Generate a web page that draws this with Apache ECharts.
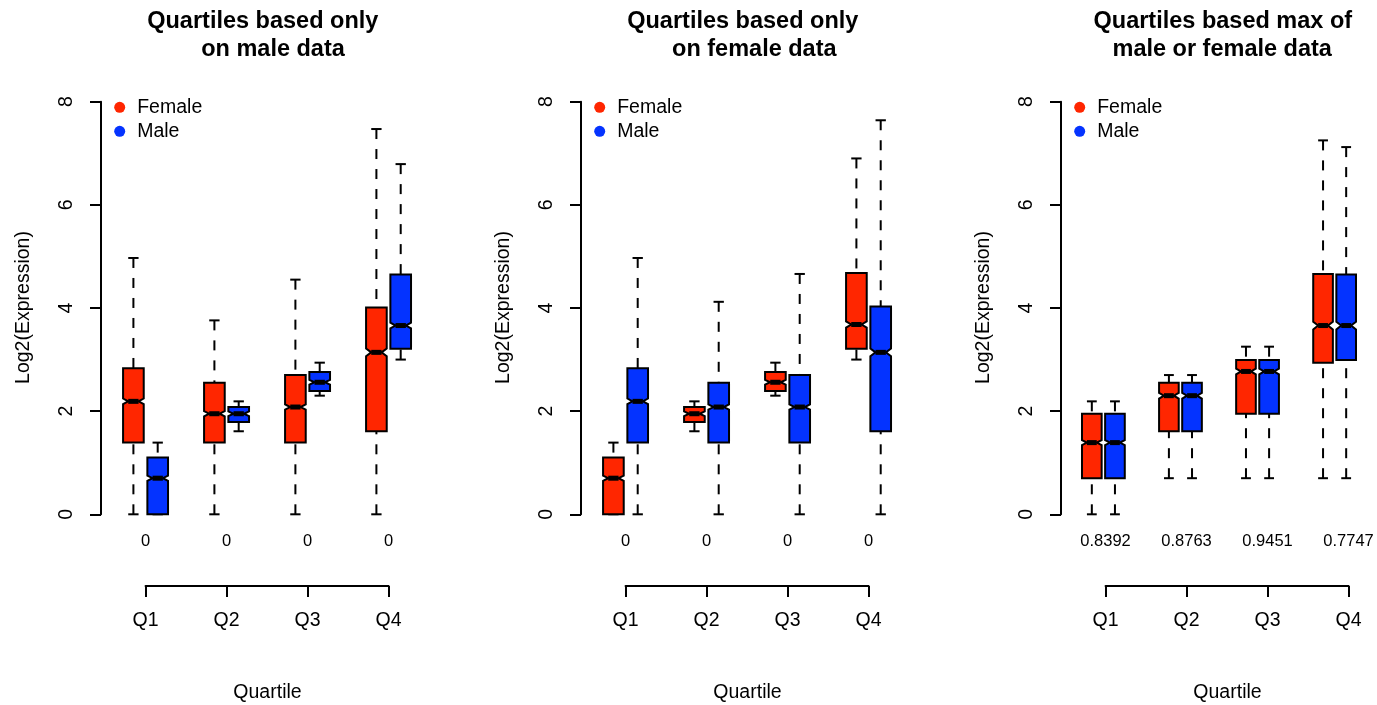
<!DOCTYPE html>
<html>
<head>
<meta charset="utf-8">
<script src="https://cdn.jsdelivr.net/npm/echarts@6/dist/echarts.min.js"></script>
<style>
html,body{margin:0;padding:0;background:#fff;}
#chart{width:1377px;height:705px;}
</style>
</head>
<body>
<div id="chart"></div>
<script>
// ---------------- data ----------------
const quartiles = ['Q1', 'Q2', 'Q3', 'Q4'];
const sexes = ['Female', 'Male'];

// each box: [lower whisker, Q1, median, Q3, upper whisker]
const maleBasedFemale = [[0, 1.39, 2.19, 2.83, 4.97], [0, 1.39, 1.95, 2.55, 3.76], [0, 1.39, 2.08, 2.70, 4.55], [0, 1.61, 3.14, 4.01, 7.47]];
const maleBasedMale   = [[0, 0, 0.70, 1.10, 1.39], [1.61, 1.79, 1.95, 2.08, 2.19], [2.30, 2.39, 2.56, 2.76, 2.94], [3.00, 3.21, 3.66, 4.65, 6.79]];
const femaleBasedFemale = [[0, 0, 0.70, 1.10, 1.39], [1.61, 1.79, 1.95, 2.08, 2.19], [2.30, 2.39, 2.56, 2.76, 2.94], [3.00, 3.21, 3.68, 4.68, 6.90]];
const femaleBasedMale   = [[0, 1.39, 2.19, 2.83, 4.97], [0, 1.39, 2.08, 2.55, 4.12], [0, 1.39, 2.08, 2.70, 4.66], [0, 1.61, 3.14, 4.03, 7.64]];
const maxBasedFemale = [[0, 0.70, 1.39, 1.95, 2.19], [0.70, 1.61, 2.30, 2.55, 2.70], [0.70, 1.95, 2.77, 2.99, 3.25], [0.70, 2.94, 3.66, 4.66, 7.25]];
const maxBasedMale   = [[0, 0.70, 1.39, 1.95, 2.19], [0.70, 1.61, 2.30, 2.55, 2.70], [0.70, 1.95, 2.77, 2.99, 3.25], [0.70, 2.99, 3.66, 4.65, 7.12]];

// notch half-heights (median +/- value)
const maleBasedFemaleNotch = [0.055, 0.05, 0.05, 0.075];
const maleBasedMaleNotch   = [0.05, 0.045, 0.045, 0.055];
const femaleBasedFemaleNotch = [0.05, 0.045, 0.045, 0.06];
const femaleBasedMaleNotch   = [0.055, 0.05, 0.05, 0.075];
const maxBasedFemaleNotch = [0.05, 0.055, 0.055, 0.075];
const maxBasedMaleNotch   = [0.05, 0.055, 0.055, 0.075];

// p-value labels under the boxes
const maleBasedP = ['0', '0', '0', '0'];
const femaleBasedP = ['0', '0', '0', '0'];
const maxBasedP = ['0.8392', '0.8763', '0.9451', '0.7747'];

const yTicks = [0, 2, 4, 6, 8];

const titleLine1 = ['Quartiles based only', 'Quartiles based only', 'Quartiles based max of'];
const titleLine2 = ['on male data', 'on female data', 'male or female data'];
const yTitle = 'Log2(Expression)';
const xTitle = 'Quartile';

// ---------------- layout / style ----------------
const FONT = "'Liberation Sans', Arial, Helvetica, sans-serif";
const COLORS = {Female: '#FF2600', Male: '#0433FF'};
const PANEL_DX = 480;
const BOX_W = 0.255;          // box width in x-units
const DODGE = 0.15;           // offset of female/male from group center
const title1X = [262.8, 742.8, 1222.8];
const title2X = [273, 754.3, 1222.2];

const panels = [
  {F: maleBasedFemale, M: maleBasedMale, FN: maleBasedFemaleNotch, MN: maleBasedMaleNotch, P: maleBasedP},
  {F: femaleBasedFemale, M: femaleBasedMale, FN: femaleBasedFemaleNotch, MN: femaleBasedMaleNotch, P: femaleBasedP},
  {F: maxBasedFemale, M: maxBasedMale, FN: maxBasedFemaleNotch, MN: maxBasedMaleNotch, P: maxBasedP}
];

function renderBox(params, api) {
  const x = api.value(0);
  const lo = api.value(1), q1 = api.value(2), med = api.value(3), q3 = api.value(4), hi = api.value(5), nt = api.value(6);
  const bw = api.size([BOX_W, 0])[0];
  const cx = api.coord([x, med])[0];
  const Y = v => api.coord([x, v])[1];
  const xl = cx - bw / 2, xr = cx + bw / 2, xnl = cx - bw / 4, xnr = cx + bw / 4;
  const yLo = Y(lo), yQ1 = Y(q1), yMed = Y(med), yQ3 = Y(q3), yHi = Y(hi), yNu = Y(med + nt), yNd = Y(med - nt);
  const color = api.visual('color');
  const lineStyle = {stroke: '#000', lineWidth: 2};
  const dashStyle = {stroke: '#000', lineWidth: 2, lineDash: [10, 10]};
  const children = [];
  if (hi > q3) children.push({type: 'line', shape: {x1: cx, y1: yHi, x2: cx, y2: yQ3}, style: dashStyle});
  if (lo < q1) children.push({type: 'line', shape: {x1: cx, y1: yLo, x2: cx, y2: yQ1}, style: dashStyle});
  children.push({type: 'line', shape: {x1: xnl, y1: yHi, x2: xnr, y2: yHi}, style: lineStyle});
  children.push({type: 'line', shape: {x1: xnl, y1: yLo, x2: xnr, y2: yLo}, style: lineStyle});
  children.push({
    type: 'polygon',
    shape: {points: [[xl, yQ3], [xr, yQ3], [xr, yNu], [xnr, yMed], [xr, yNd], [xr, yQ1], [xl, yQ1], [xl, yNd], [xnl, yMed], [xl, yNu]]},
    style: {fill: color, stroke: '#000', lineWidth: 2, lineJoin: 'miter'}
  });
  children.push({type: 'line', shape: {x1: xnl, y1: yMed, x2: xnr, y2: yMed}, style: {stroke: '#000', lineWidth: 5, lineCap: 'butt'}});
  return {type: 'group', children: children};
}

const grid = [], xAxis = [], yAxis = [], series = [], legend = [], graphic = [];

panels.forEach((pd, p) => {
  const off = p * PANEL_DX;
  // main plot grid (index p)
  grid[p] = {left: 101 + off, top: 101.7, width: 332.1, height: 412.6, containLabel: false};
  xAxis[p] = {type: 'value', gridIndex: p, min: 0.45, max: 4.55, show: false};
  yAxis[p] = {
    type: 'value', gridIndex: p, min: 0, max: 8, interval: 2,
    axisLine: {show: true, lineStyle: {color: '#000', width: 2}},
    axisTick: {show: true, length: 11, lineStyle: {color: '#000', width: 2}},
    splitLine: {show: false},
    axisLabel: {rotate: 90, margin: 24, color: '#000', fontSize: 19.5, fontFamily: FONT,
      formatter: v => (yTicks.indexOf(v) >= 0 ? String(v) : '')}
  };
  // bottom quartile axis grid (index 3+p)
  grid[3 + p] = {left: 145.55 + off, top: 580, width: 243, height: 6};
  xAxis[3 + p] = {
    type: 'category', gridIndex: 3 + p, data: quartiles, boundaryGap: false, position: 'bottom',
    axisLine: {show: true, lineStyle: {color: '#000', width: 2}},
    axisTick: {show: true, length: 11, alignWithLabel: true, lineStyle: {color: '#000', width: 2}},
    axisLabel: {margin: 25, color: '#000', fontSize: 19.5, lineHeight: 20, fontFamily: FONT, interval: 0}
  };
  xAxis[6 + p] = {
    type: 'category', gridIndex: 3 + p, data: quartiles, boundaryGap: false, position: 'top',
    axisLine: {show: false}, axisTick: {show: false},
    axisLabel: {margin: 30, color: '#000', fontSize: 16.5, lineHeight: 17, fontFamily: FONT, interval: 0,
      formatter: (v, i) => pd.P[i]}
  };
  yAxis[3 + p] = {type: 'value', gridIndex: 3 + p, min: 0, max: 1, show: false};

  sexes.forEach((s, si) => {
    const stats = si === 0 ? pd.F : pd.M;
    const notch = si === 0 ? pd.FN : pd.MN;
    const dx = si === 0 ? -DODGE : DODGE;
    series.push({
      type: 'custom', name: s, xAxisIndex: p, yAxisIndex: p,
      itemStyle: {color: COLORS[s]},
      renderItem: renderBox,
      encode: {x: 0, y: [1, 2, 3, 4, 5]},
      data: quartiles.map((q, i) => [i + 1 + dx].concat(stats[i], [notch[i]])),
      silent: true
    });
  });

  legend.push({
    left: 114.2 + off, top: 97.3, orient: 'vertical', icon: 'circle',
    itemWidth: 11, itemHeight: 11, itemGap: 4, padding: 0, selectedMode: false,
    textStyle: {color: '#000', fontSize: 19.5, lineHeight: 20, fontFamily: FONT, padding: [0, 0, 0, 7]},
    data: sexes
  });

  const tfont = 'bold 23.5px ' + FONT;
  graphic.push({type: 'text', x: title1X[p], y: 22, style: {text: titleLine1[p], font: tfont, fill: '#000', textAlign: 'center', textVerticalAlign: 'middle', align: 'center', verticalAlign: 'middle'}});
  graphic.push({type: 'text', x: title2X[p], y: 50, style: {text: titleLine2[p], font: tfont, fill: '#000', textAlign: 'center', textVerticalAlign: 'middle', align: 'center', verticalAlign: 'middle'}});
  graphic.push({type: 'text', x: 267.5 + off, y: 692.7, style: {text: xTitle, font: '19.5px ' + FONT, fill: '#000', textAlign: 'center', textVerticalAlign: 'middle', align: 'center', verticalAlign: 'middle'}});
  graphic.push({type: 'text', x: 23.5 + off, y: 307.5, rotation: Math.PI / 2, style: {text: yTitle, font: '19.5px ' + FONT, fill: '#000', textAlign: 'center', textVerticalAlign: 'middle', align: 'center', verticalAlign: 'middle'}});
});

const chart = echarts.init(document.getElementById('chart'), null, {renderer: 'canvas'});
chart.setOption({
  animation: false,
  backgroundColor: '#fff',
  grid: grid, xAxis: xAxis, yAxis: yAxis, legend: legend, series: series, graphic: graphic
});
</script>
</body>
</html>
